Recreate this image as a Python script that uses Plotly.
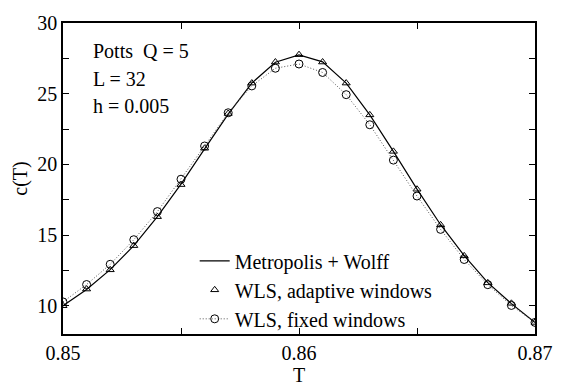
import plotly.graph_objects as go

T = [0.850, 0.851, 0.852, 0.853, 0.854, 0.855, 0.856, 0.857, 0.858, 0.859, 0.860,
     0.861, 0.862, 0.863, 0.864, 0.865, 0.866, 0.867, 0.868, 0.869, 0.870]
c_metro = [10.0, 11.15, 12.55, 14.25, 16.3, 18.6, 21.1, 23.55, 25.75, 27.22, 27.75,
           27.25, 25.75, 23.5, 20.92, 18.25, 15.73, 13.55, 11.63, 10.15, 8.82]
c_adaptive = [10.0, 11.18, 12.54, 14.25, 16.3, 18.57, 21.14, 23.6, 25.75, 27.24, 27.76,
              27.24, 25.75, 23.5, 20.92, 18.24, 15.72, 13.53, 11.62, 10.17, 8.82]
c_fixed = [10.27, 11.5, 12.93, 14.67, 16.66, 18.95, 21.3, 23.65, 25.55, 26.8, 27.1,
           26.5, 24.93, 22.8, 20.3, 17.76, 15.4, 13.27, 11.49, 10.02, 8.82]

info_lines = ["Potts  Q = 5", "L = 32", "h = 0.005"]

FONT = "Liberation Serif, Times New Roman, serif"

fig = go.Figure()
fig.add_trace(go.Scatter(x=T, y=c_metro, mode="lines", name="Metropolis + Wolff",
                         line=dict(color="black", width=1.2)))
fig.add_trace(go.Scatter(x=T, y=c_adaptive, mode="markers", name="WLS, adaptive windows",
                         marker=dict(symbol="triangle-up-open", size=7, color="black",
                                     line=dict(width=1))))
fig.add_trace(go.Scatter(x=T, y=c_fixed, mode="lines+markers", name="WLS, fixed windows",
                         line=dict(color="#555555", width=1, dash="1px,2px"),
                         marker=dict(symbol="circle-open", size=8, color="black",
                                     line=dict(width=1))))

for i, s in enumerate(info_lines):
    fig.add_annotation(text=s, xref="paper", yref="paper", x=(91 - 63) / 476,
                       y=1 - (49 + 29.5 * i - 19) / 333, xanchor="left", yanchor="middle",
                       showarrow=False, font=dict(family=FONT, size=20, color="black"))

axis_common = dict(showgrid=False, zeroline=False, showline=True, linecolor="black",
                   linewidth=1.5, mirror="allticks", ticks="inside", ticklen=6,
                   tickwidth=1, tickcolor="black",
                   tickfont=dict(family=FONT, size=20, color="black"))

fig.update_layout(
    width=565, height=390,
    margin=dict(l=63, r=26, t=19, b=38),
    paper_bgcolor="white", plot_bgcolor="white",
    font=dict(family=FONT, color="black"),
    showlegend=True,
    legend=dict(x=0.279, y=0.298, xanchor="left", yanchor="top", itemwidth=30,
                bgcolor="rgba(0,0,0,0)", font=dict(family=FONT, size=20, color="black"),
                tracegroupgap=0),
    xaxis=dict(range=[0.85, 0.87], dtick=0.01, tick0=0.85, tickformat=".2f",
               minor=dict(dtick=0.005, ticks="inside", ticklen=6, tickcolor="black"),
               title=dict(text="T", font=dict(family=FONT, size=20, color="black"),
                          standoff=0),
               **axis_common),
    yaxis=dict(range=[8, 30], dtick=5, tick0=0,
               minor=dict(dtick=2.5, ticks="inside", ticklen=6, tickcolor="black"),
               title=dict(text="c(T)", font=dict(family=FONT, size=20, color="black"),
                          standoff=4),
               **axis_common),
)

fig.write_html("out.html")
